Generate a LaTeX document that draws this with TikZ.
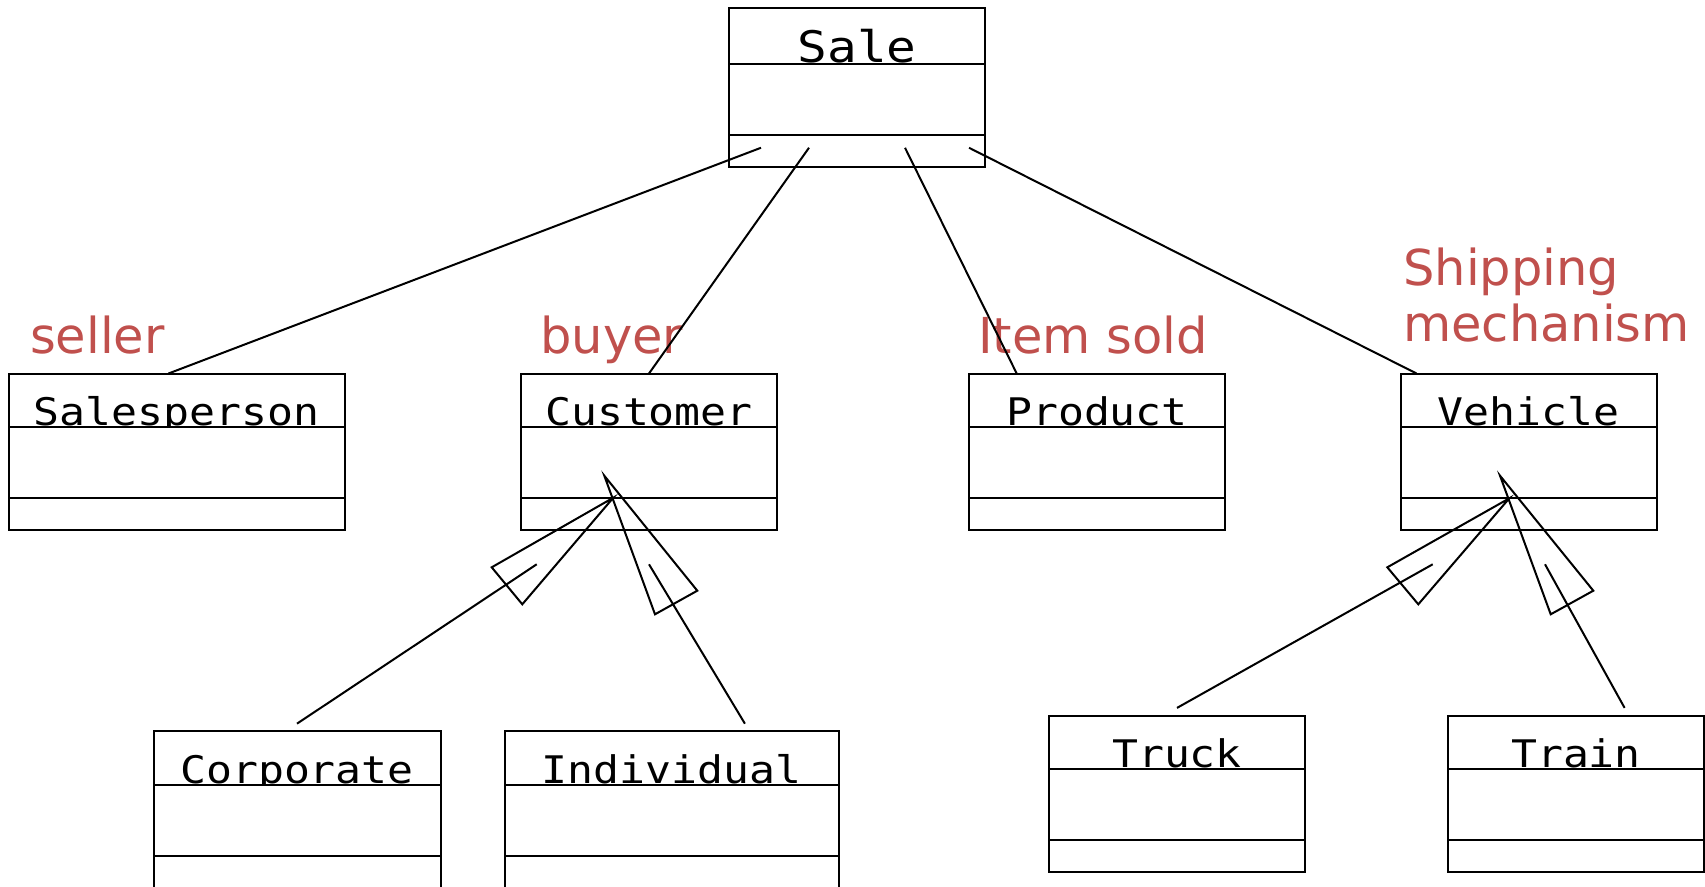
\documentclass[tikz,border=0pt]{standalone}
\usepackage{fontspec}
\usepackage{tikz}
\usetikzlibrary{positioning, calc}
\newfontfamily\umlfont[FakeStretch=1.135]{DejaVu Sans Mono}
\newfontfamily\notefont{DejaVu Sans}
\definecolor{notered}{RGB}{192, 80, 77}
\tikzset{
  classname/.style = {draw, line width = 2pt, minimum width = 256pt, minimum height = 53.5pt,
    inner sep = 0pt, outer sep = 0pt, text height = 52pt, text depth = 1.5pt,
    font = \umlfont\fontsize{38}{40}\selectfont},
  classpart/.style = {draw, fill = white, line width = 2pt, minimum width = 256pt,
    inner sep = 0pt, outer sep = 0pt},
  attrs/.style = {classpart, minimum height = 71pt},
  ops/.style = {classpart, minimum height = 32pt},
  note/.style = {text = notered, inner sep = 0pt, font = \notefont\fontsize{49.5}{56.7}\selectfont},
  assoc/.style = {line width = 2pt},
  genhead/.style = {line width = 2pt, line join = miter}
}

\begin{document}
\begin{tikzpicture}[x = 1pt, y = -1pt]
\useasboundingbox (0,0) rectangle (1705,886);

% the sale
\node[classname, minimum height = 56.5pt, text height = 55pt,
  font = \umlfont\fontsize{43.5}{45}\selectfont] (sale) at (857, 35.75) {Sale};
\node[attrs, below = 0pt of sale] (sale-attr) {};
\node[ops, minimum height = 31.5pt, below = 0pt of sale-attr] (sale-op) {};

% second row
\node[classname, minimum width = 336pt] (salesperson) at (176.5, 400.25) {Salesperson};
\node[attrs, minimum width = 336pt, below = 0pt of salesperson] (salesperson-attr) {};
\node[ops, minimum width = 336pt, below = 0pt of salesperson-attr] (salesperson-op) {};

\node[classname] (customer) at (649, 400.25) {Customer};
\node[attrs, below = 0pt of customer] (customer-attr) {};
\node[ops, below = 0pt of customer-attr] (customer-op) {};

\node[classname] (product) at (1097, 400.25) {Product};
\node[attrs, below = 0pt of product] (product-attr) {};
\node[ops, below = 0pt of product-attr] (product-op) {};

\node[classname] (vehicle) at (1528.5, 400.25) {Vehicle};
\node[attrs, below = 0pt of vehicle] (vehicle-attr) {};
\node[ops, below = 0pt of vehicle-attr] (vehicle-op) {};

% third row
\node[classname, minimum width = 287pt] (corporate) at (297, 758) {Corporate};
\node[attrs, minimum width = 287pt, below = 0pt of corporate] (corporate-attr) {};
\node[ops, minimum width = 287pt, below = 0pt of corporate-attr] (corporate-op) {};

\node[classname, minimum width = 334pt] (individual) at (671.5, 758) {Individual};
\node[attrs, minimum width = 334pt, below = 0pt of individual] (individual-attr) {};
\node[ops, minimum width = 334pt, below = 0pt of individual-attr] (individual-op) {};

\node[classname] (truck) at (1177, 742.25) {Truck};
\node[attrs, below = 0pt of truck] (truck-attr) {};
\node[ops, below = 0pt of truck-attr] (truck-op) {};

\node[classname] (train) at (1576, 742.25) {Train};
\node[attrs, below = 0pt of train] (train-attr) {};
\node[ops, below = 0pt of train-attr] (train-op) {};

% role names
\node[note, anchor = base west] (seller) at (30, 353) {seller};
\node[note, anchor = base west] (buyer) at (540, 353) {buyer};
\node[note, anchor = base west] (itemsold) at (978, 353) {Item sold};
\node[note, anchor = base west, align = left] (shipping) at (1403, 341.7) {Shipping\\mechanism};

% associations
\draw[assoc] ([shift = {(32pt, 3pt)}]sale-op.west) -- ([xshift = -8pt]salesperson.north);
\draw[assoc] ([shift = {(80pt, 3pt)}]sale-op.west) -- (customer.north);
\draw[assoc] ([shift = {(176pt, 3pt)}]sale-op.west) -- ([xshift = 47.7pt]product.north west);
\draw[assoc] ([shift = {(240pt, 3pt)}]sale-op.west) -- ([xshift = 16pt]vehicle.north west);

% generalisation heads
\coordinate (cust-apex-l) at (613.3, 497.7);
\coordinate (cust-apex-r) at (604.3, 475.7);
\coordinate (veh-apex-l) at (1509.3, 498.3);
\coordinate (veh-apex-r) at (1500, 475.7);
\draw[genhead] (cust-apex-l) -- (491.7, 567.3) -- (522.3, 604.3) -- cycle;
\draw[genhead] (cust-apex-r) -- (655, 614.3) -- (697.3, 590.7) -- cycle;
\draw[genhead] (veh-apex-l) -- (1387.3, 567.3) -- (1418.3, 604.3) -- cycle;
\draw[genhead] (veh-apex-r) -- (1550.7, 614.3) -- (1593.3, 590.7) -- cycle;

\coordinate (corp-end) at (536.7, 564.3);
\coordinate (indiv-end) at (649, 564.3);
\coordinate (truck-end) at (1432.7, 564.3);
\coordinate (train-end) at (1545, 564.3);
\draw[assoc] ([yshift = 7.6pt]corporate.north) -- (corp-end);
\draw[assoc] ([shift = {(73.4pt, 7.6pt)}]individual.north) -- (indiv-end);
\draw[assoc] ([yshift = 7.6pt]truck.north) -- (truck-end);
\draw[assoc] ([shift = {(48.6pt, 7.6pt)}]train.north) -- (train-end);
\end{tikzpicture}
\end{document}
